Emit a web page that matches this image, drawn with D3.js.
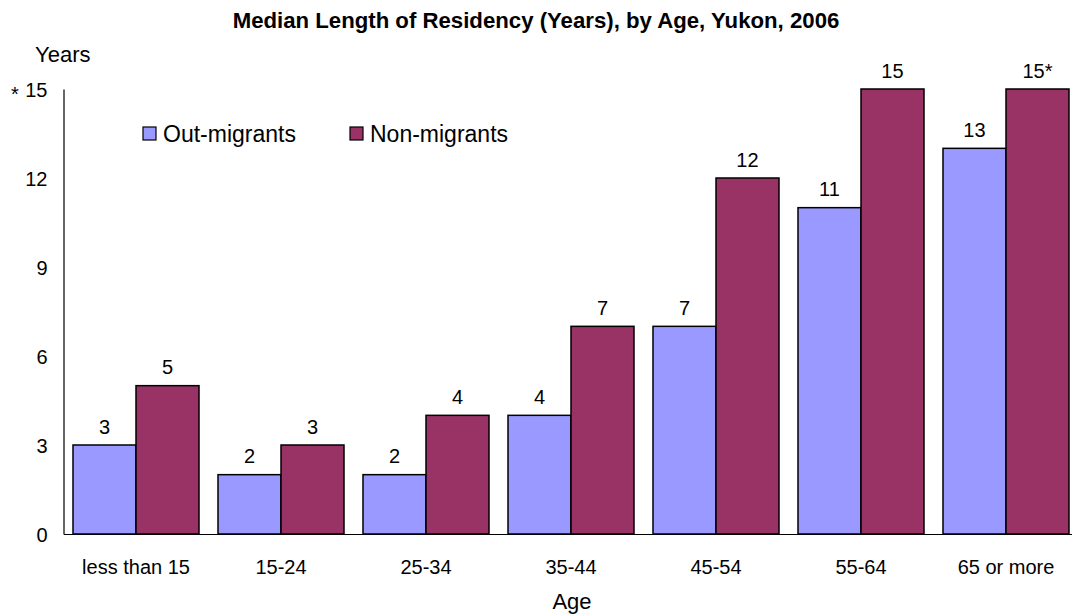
<!DOCTYPE html>
<html lang="en">
<head>
<meta charset="utf-8">
<title>Median Length of Residency</title>
<script src="https://d3js.org/d3.v7.min.js"></script>
<style>
  body { margin: 0; background: #fff; }
  svg text { font-family: "Liberation Sans", Arial, sans-serif; fill: #000; }
</style>
</head>
<body>
<script>
// data
var ages = ["less than 15", "15-24", "25-34", "35-44", "45-54", "55-64", "65 or more"];
var outMigrants = [3, 2, 2, 4, 7, 11, 13];
var nonMigrants = [5, 3, 4, 7, 12, 15, 15];
var nonLabels = ["5", "3", "4", "7", "12", "15", "15*"];
var yTicks = [0, 3, 6, 9, 12, 15];
var seriesNames = ["Out-migrants", "Non-migrants"];
var colors = ["#9999ff", "#993366"];

var W = 1072, H = 615;
var x0 = 63.5, y0 = 534, yTop = 89;

var svg = d3.select("body").append("svg")
    .attr("width", W).attr("height", H);

var x = d3.scaleBand().domain(ages).range([x0, x0 + 145 * ages.length]).paddingInner(0.131).paddingOuter(0.0655);
var xs = d3.scaleBand().domain([0, 1]).range([0, x.bandwidth()]);
var y = d3.scaleLinear().domain([0, 15]).range([y0, yTop]);

// title
svg.append("text").attr("x", 536).attr("y", 28).attr("text-anchor", "middle")
    .style("font-size", "22.2px").style("font-weight", "bold")
    .text("Median Length of Residency (Years), by Age, Yukon, 2006");

// bars
var rows = ages.map(function(a, i) { return {age: a, vals: [outMigrants[i], nonMigrants[i]], labs: [String(outMigrants[i]), nonLabels[i]]}; });
var g = svg.selectAll(".grp").data(rows).enter().append("g")
    .attr("transform", function(d) { return "translate(" + x(d.age) + ",0)"; });

g.selectAll("rect").data(function(d) { return d.vals; }).enter().append("rect")
    .attr("x", function(d, i) { return xs(i); })
    .attr("y", function(d) { return y(d); })
    .attr("width", xs.bandwidth())
    .attr("height", function(d) { return y0 - y(d); })
    .attr("fill", function(d, i) { return colors[i]; })
    .attr("stroke", "#000").attr("stroke-width", 1.5);

g.selectAll(".lab").data(function(d) { return d.vals.map(function(v, i) { return {v: v, t: d.labs[i]}; }); })
    .enter().append("text")
    .attr("x", function(d, i) { return xs(i) + xs.bandwidth() / 2; })
    .attr("y", function(d) { return y(d.v) - 11.5; })
    .attr("text-anchor", "middle").style("font-size", "20px")
    .text(function(d) { return d.t; });

// axes
var yAxis = d3.axisLeft(y).tickValues(yTicks).tickSize(0).tickPadding(16);
var ya = svg.append("g").attr("transform", "translate(" + x0 + ",0)").call(yAxis);
ya.select(".domain").attr("stroke", "#000").attr("stroke-width", 1.2);
ya.selectAll("text").style("font-size", "20px").attr("dy", "0.36em");

var xAxis = d3.axisBottom(x).tickSize(0).tickPadding(26);
var xa = svg.append("g").attr("transform", "translate(0," + y0 + ")").call(xAxis);
xa.select(".domain").attr("stroke", "#000").attr("stroke-width", 1.2);
xa.selectAll("text").style("font-size", "20px");

svg.append("text").attr("x", 15).attr("y", 101).attr("text-anchor", "middle").style("font-size", "20px").text("*");

// axis titles
svg.append("text").attr("x", 35).attr("y", 62).style("font-size", "22px").text("Years");
svg.append("text").attr("x", 572).attr("y", 609).attr("text-anchor", "middle").style("font-size", "22px").text("Age");

// legend
var legX = [143, 350];
seriesNames.forEach(function(n, i) {
  svg.append("rect").attr("x", legX[i]).attr("y", 127).attr("width", 13).attr("height", 13)
      .attr("fill", colors[i]).attr("stroke", "#000").attr("stroke-width", 1.2);
  svg.append("text").attr("x", legX[i] + 20).attr("y", 142).style("font-size", "23px").text(n);
});
</script>
</body>
</html>
